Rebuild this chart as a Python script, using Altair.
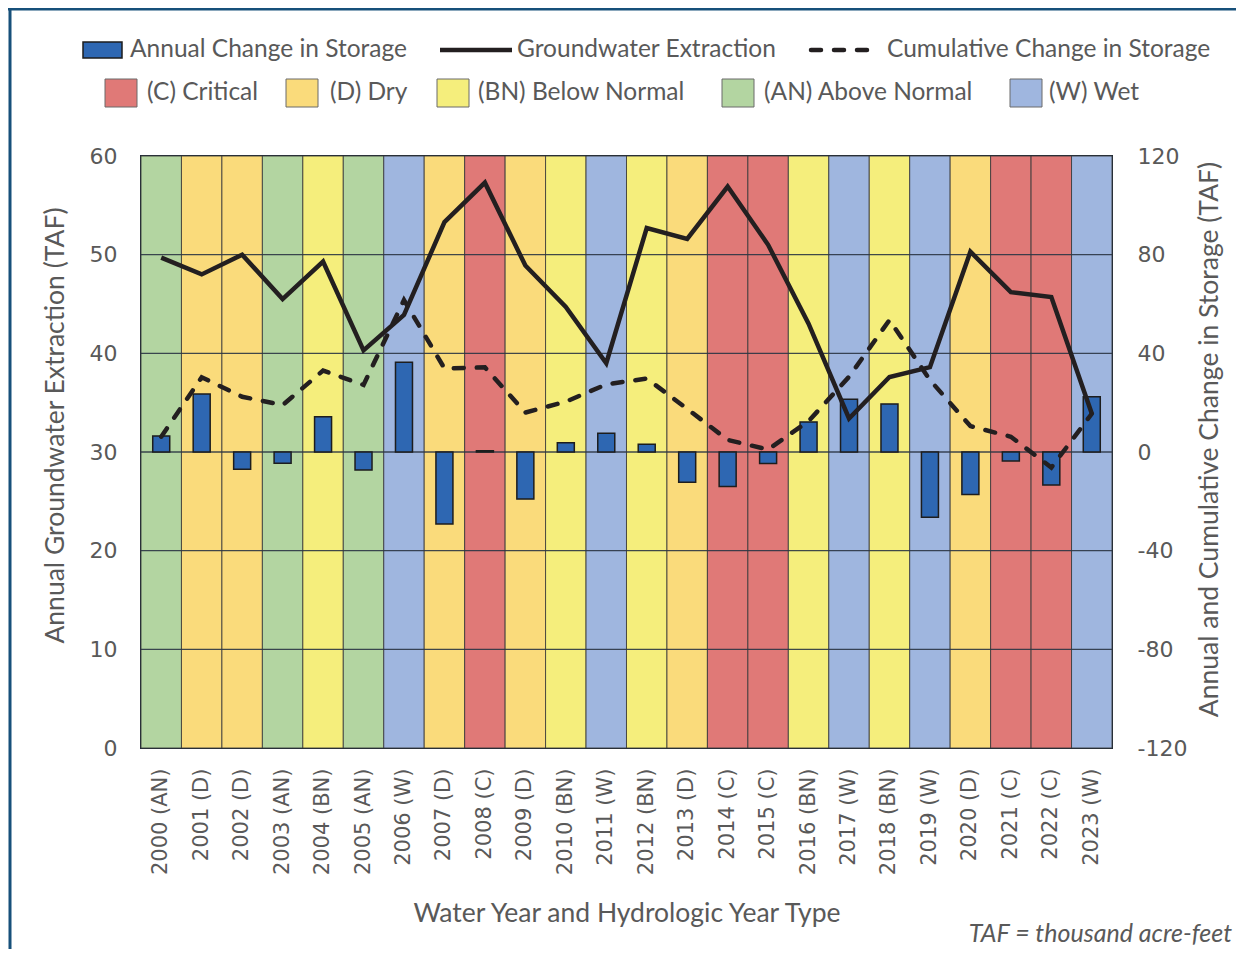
import altair as alt
import pandas as pd

# ---------------- data ----------------
years = list(range(2000, 2024))
types = ["AN", "D", "D", "AN", "BN", "AN", "W", "D", "C", "D", "BN", "W",
         "BN", "D", "C", "C", "BN", "W", "BN", "W", "D", "C", "C", "W"]
extraction = [49.7, 48.0, 50.0, 45.5, 49.3, 40.3, 43.9, 53.3, 57.3, 48.9, 44.7, 39.0,
              52.7, 51.6, 56.9, 51.0, 43.0, 33.4, 37.6, 38.6, 50.3, 46.2, 45.7, 33.9]
annual = [6.5, 23.5, -7.0, -4.6, 14.3, -7.3, 36.4, -29.2, 0.5, -19.1, 3.8, 7.6,
          3.1, -12.3, -14.0, -4.7, 12.2, 21.4, 19.5, -26.5, -17.2, -3.6, -13.4, 22.4]
cumulative = [6.2, 30.3, 22.4, 19.0, 33.0, 27.2, 61.6, 33.9, 34.3, 16.0, 20.4, 27.4,
              29.8, 17.5, 4.9, 1.0, 12.5, 30.5, 53.5, 29.2, 10.5, 6.2, -6.3, 15.5]

type_codes = ["C", "D", "BN", "AN", "W"]
type_names = ["(C) Critical", "(D) Dry", "(BN) Below Normal", "(AN) Above Normal", "(W) Wet"]
type_colors = ["#E07977", "#FADB7B", "#F5EE7C", "#B3D5A1", "#9FB6DF"]
series_names = ["Annual Change in Storage", "Groundwater Extraction", "Cumulative Change in Storage"]

left_ticks = [0, 10, 20, 30, 40, 50, 60]
grid_vals = [10, 20, 30, 40, 50]
right_ticks = [-120, -80, -40, 0, 40, 80, 120]

labels = [f"{y} ({t})" for y, t in zip(years, types)]
df = pd.DataFrame({
    "label": labels,
    "type": types,
    "extraction": extraction,
    "annual": annual,
    "cumulative": cumulative,
})
grid_df = pd.DataFrame({"v": grid_vals})

# ---------------- styling ----------------
W, H = 971, 592
GRAY = "#595959"
TICK_FONT = "DejaVu Sans"
TEXT_FONT = "Lato"
BAR_BLUE = "#2E67B2"
LINE_BLACK = "#231F20"

x_enc = alt.X(
    "label:N", sort=None,
    scale=alt.Scale(paddingInner=0, paddingOuter=0),
    axis=alt.Axis(
        title="Water Year and Hydrologic Year Type",
        labelAngle=270, labelAlign="right", labelBaseline="middle",
        labelPadding=20, ticks=False, domain=False,
        labelFont=TICK_FONT, labelFontSize=21, labelColor=GRAY,
        titleFont=TEXT_FONT, titleFontSize=26.5, titleColor=GRAY,
        titleFontWeight="normal", titlePadding=26,
    ),
)

left_scale = alt.Scale(domain=[0, 60], nice=False, zero=False)
right_scale = alt.Scale(domain=[-120, 120], nice=False, zero=False)

base = alt.Chart(df)

bg = base.mark_rect(stroke="#3a3a3a", strokeWidth=1, strokeOpacity=0.85).transform_calculate(
    top="60", bottom="0"
).encode(
    x=x_enc,
    y=alt.Y("top:Q", scale=left_scale, axis=alt.Axis(
        title="Annual Groundwater Extraction (TAF)", values=left_ticks,
        orient="left", grid=False, ticks=False, domain=False, labelPadding=24,
        labelFont=TICK_FONT, labelFontSize=22, labelColor=GRAY,
        titleFont=TEXT_FONT, titleFontSize=26.5, titleColor=GRAY,
        titleFontWeight="normal", titlePadding=20, titleY=269,
    )),
    y2="bottom:Q",
    color=alt.Color("type:N", scale=alt.Scale(domain=type_codes, range=type_colors), legend=None),
)

grid = alt.Chart(grid_df).mark_rule(color="#2b3544", strokeWidth=1.3, strokeOpacity=0.9).encode(
    y=alt.Y("v:Q", scale=left_scale),
)

left_layer = alt.layer(bg, grid)

y_right = alt.Y("annual:Q", scale=right_scale, axis=alt.Axis(
    title="Annual and Cumulative Change in Storage (TAF)", values=right_ticks,
    labelExpr="'' + datum.value",
    orient="right", grid=False, ticks=False, domain=False, labelPadding=25,
    labelFont=TICK_FONT, labelFontSize=22, labelColor=GRAY,
    titleFont=TEXT_FONT, titleFontSize=26.5, titleColor=GRAY,
    titleFontWeight="normal", titlePadding=10, titleAngle=270, titleBaseline="top",
    titleY=283,
))

bars = base.mark_bar(size=17, color=BAR_BLUE, stroke="#1d1d1d", strokeWidth=1.5).transform_calculate(
    zero="0"
).encode(
    x=x_enc,
    y=y_right,
    y2="zero:Q",
)

dashed = base.mark_line(color=LINE_BLACK, strokeWidth=4.5, strokeDash=[10, 13], strokeCap="round").encode(
    x=x_enc,
    y=alt.Y("cumulative:Q", scale=right_scale),
)

right_layer = alt.layer(bars, dashed)

solid = base.mark_line(color=LINE_BLACK, strokeWidth=4.5).encode(
    x=x_enc,
    y=alt.Y("extraction:Q", scale=left_scale, axis=None),
)

# ---------------- legend (drawn by hand) ----------------
one = alt.Data(values=[{"k": 1}])
LEG_SIZE = 24.5


def leg_text(txt, x, y):
    return alt.Chart(one).mark_text(
        text=txt, align="left", baseline="middle", font=TEXT_FONT,
        fontSize=LEG_SIZE, color=GRAY,
    ).encode(x=alt.value(x), y=alt.value(y))


def leg_box(x1, x2, y1, y2, fill, stroke, sw):
    return alt.Chart(one).mark_rect(fill=fill, stroke=stroke, strokeWidth=sw).encode(
        x=alt.value(x1), x2=alt.value(x2), y=alt.value(y1), y2=alt.value(y2)
    )


def leg_line(x1, x2, y, dash=None):
    kw = dict(color=LINE_BLACK, strokeWidth=4.5)
    if dash:
        kw.update(strokeDash=dash, strokeCap="round")
    return alt.Chart(one).mark_rule(**kw).encode(
        x=alt.value(x1), x2=alt.value(x2), y=alt.value(y)
    )


r1 = -106
r2 = -63
legend_layers = [
    leg_box(-58, -19, -114, -98, BAR_BLUE, "#1d1d1d", 1.5),
    leg_text(series_names[0], -11, r1),
    leg_line(299, 371, r1),
    leg_text(series_names[1], 376, r1),
    leg_line(670, 736, r1, dash=[10, 13]),
    leg_text(series_names[2], 746, r1),
]
box_x = [-36, 145, 296, 581, 869]
txt_x = [6, 189, 337, 623, 908]
for name, col, bx, tx in zip(type_names, type_colors, box_x, txt_x):
    legend_layers.append(leg_box(bx, bx + 32, -77, -49, col, "#6b6b6b", 1))
    legend_layers.append(leg_text(name, tx, r2))

footnote = alt.Chart(one).mark_text(
    text="TAF = thousand acre-feet", align="right", baseline="middle", font=TEXT_FONT,
    fontSize=25, fontStyle="italic", color=GRAY,
).encode(x=alt.value(1091), y=alt.value(778))

frame_top = alt.Chart(one).mark_rule(color="#17507A", strokeWidth=3).encode(
    x=alt.value(-133), x2=alt.value(1100), y=alt.value(-147)
)
frame_left = alt.Chart(one).mark_rule(color="#17507A", strokeWidth=3).encode(
    x=alt.value(-131), y=alt.value(-148), y2=alt.value(805)
)

chart = alt.layer(
    left_layer, right_layer, solid, *legend_layers, footnote, frame_top, frame_left
).resolve_scale(y="independent").properties(
    width=W, height=H,
    autosize=alt.AutoSizeParams(type="none"),
    padding={"left": 133, "top": 148, "right": 124, "bottom": 201},
    background="white",
).configure_view(
    stroke="#1e2a38", strokeWidth=2,
)

chart.save("out.html", embed_options={"renderer": "svg", "actions": False})
